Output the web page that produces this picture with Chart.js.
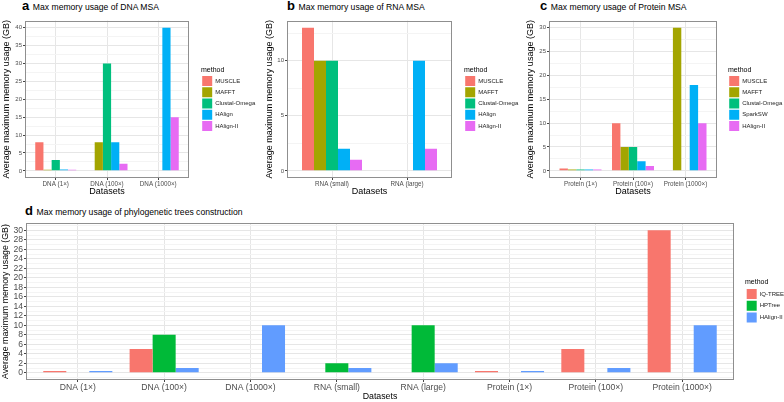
<!DOCTYPE html>
<html>
<head>
<meta charset="utf-8">
<script src="https://cdn.jsdelivr.net/npm/chart.js@4.4.1/dist/chart.umd.min.js"></script>
<style>
  html, body { margin: 0; padding: 0; background: #fff; }
  body { width: 784px; height: 402px; position: relative; overflow: hidden; font-family: "Liberation Sans", Arial, sans-serif; }
  .ttl { position: absolute; white-space: nowrap; font-size: 13px; line-height: 13px; color: #000; }
  .ttl b { font-size: 13px; }
  .ttl span { font-size: 8.6px; }
  canvas { position: absolute; }
</style>
</head>
<body>
<div class="ttl" style="left:22px;top:-1px"><b>a</b> <span>Max memory usage of DNA MSA</span></div>
<div class="ttl" style="left:287px;top:-1px"><b>b</b> <span>Max memory usage of RNA MSA</span></div>
<div class="ttl" style="left:540px;top:-1px"><b>c</b> <span>Max memory usage of Protein MSA</span></div>
<div class="ttl" style="left:25px;top:204px"><b>d</b> <span>Max memory usage of phylogenetic trees construction</span></div>

<canvas id="chartA" width="260" height="186" style="left:0px;top:16px"></canvas>
<canvas id="chartB" width="258" height="186" style="left:262px;top:16px"></canvas>
<canvas id="chartC" width="260" height="186" style="left:524px;top:16px"></canvas>
<canvas id="chartD" width="784" height="185" style="left:0px;top:217px"></canvas>

<script>
// a - DNA MSA
const dnaCategories = ['DNA (1×)', 'DNA (100×)', 'DNA (1000×)'];
const dnaMethods = ['MUSCLE', 'MAFFT', 'Clustal-Omega', 'HAlign', 'HAlign-II'];
const dnaMuscle = [8, null, null];
const dnaMafft = [0.3, 8, null];
const dnaClustal = [3, 30, null];
const dnaHalign = [0.4, 8, 40];
const dnaHalign2 = [0.3, 2, 15];
const dnaTicks = [0, 5, 10, 15, 20, 25, 30, 35, 40];

// b - RNA MSA
const rnaCategories = ['RNA (small)', 'RNA (large)'];
const rnaMethods = ['MUSCLE', 'MAFFT', 'Clustal-Omega', 'HAlign', 'HAlign-II'];
const rnaMuscle = [13, null];
const rnaMafft = [10, null];
const rnaClustal = [10, null];
const rnaHalign = [2, 10];
const rnaHalign2 = [1, 2];
const rnaTicks = [0, 5, 10];

// c - Protein MSA
const protCategories = ['Protein (1×)', 'Protein (100×)', 'Protein (1000×)'];
const protMethods = ['MUSCLE', 'MAFFT', 'Clustal-Omega', 'SparkSW', 'HAlign-II'];
const protMuscle = [0.5, 10, null];
const protMafft = [0.3, 5, 30];
const protClustal = [0.3, 5, null];
const protSparksw = [0.3, 2, 18];
const protHalign2 = [0.3, 1, 10];
const protTicks = [0, 5, 10, 15, 20, 25, 30];

// d - phylogenetic trees
const treeCategories = ['DNA (1×)', 'DNA (100×)', 'DNA (1000×)', 'RNA (small)', 'RNA (large)', 'Protein (1×)', 'Protein (100×)', 'Protein (1000×)'];
const treeMethods = ['IQ-TREE', 'HPTree', 'HAlign-II'];
const treeIqtree = [0.4, 5, null, null, null, 0.4, 5, 30];
const treeHptree = [null, 8, null, 2, 10, null, null, null];
const treeHalign2 = [0.4, 1, 10, 1, 2, 0.4, 1, 10];
const treeTicks = [0, 2, 4, 6, 8, 10, 12, 14, 16, 18, 20, 22, 24, 26, 28, 30];

const hue5 = ['#F8766D', '#A3A500', '#00BF7D', '#00B0F6', '#E76BF3'];
const hue3 = ['#F8766D', '#00BA38', '#619CFF'];

Chart.defaults.font.family = '"Liberation Sans", Arial, sans-serif';

// grey frame round the panel, like theme_bw
const panelBorder = {
    id: 'panelBorder',
    afterDraw(chart) {
        const a = chart.chartArea;
        const ctx = chart.ctx;
        ctx.save();
        ctx.strokeStyle = '#8f8f8f';
        ctx.lineWidth = 1;
        ctx.strokeRect(Math.round(a.left) + 0.5, Math.round(a.top) + 0.5,
            Math.round(a.right - a.left) - 1, Math.round(a.bottom - a.top) - 1);
        ctx.restore();
    }
};

function makeChart(id, o) {
    const n = o.categories.length;
    let top = 0;
    o.series.forEach(s => s.forEach(v => { if (v !== null && v > top) top = v; }));
    const yMin = -0.05 * top;
    const yMax = 1.05 * top;

    // major ticks plus ggplot-style minor lines half way between
    const majorSet = new Set(o.yTicks);
    const half = (o.yTicks[1] - o.yTicks[0]) / 2;
    const allY = [];
    for (let k = -1; k <= o.yTicks.length * 2; k++) {
        const v = o.yTicks[0] + k * half;
        if (v >= yMin && v <= yMax) allY.push(v);
    }
    const isMajor = c => c.tick && majorSet.has(c.tick.value);

    const datasets = o.series.map((vals, i) => ({
        label: o.methods[i],
        data: vals.map((v, j) => ({ x: j + 1, y: v })),
        backgroundColor: o.colors[i],
        borderWidth: 0,
        xAxisID: 'x',
        yAxisID: 'y'
    }));

    const ctx = document.getElementById(id).getContext('2d');
    return new Chart(ctx, {
        type: 'bar',
        data: { datasets: datasets },
        options: {
            responsive: false,
            animation: false,
            layout: { padding: o.pad },
            datasets: { bar: { categoryPercentage: 0.8, barPercentage: 1 } },
            scales: {
                x: {
                    type: 'linear',
                    min: 0.4,
                    max: n + 0.6,
                    offset: false,
                    afterBuildTicks: s => { s.ticks = o.categories.map((c, i) => ({ value: i + 1 })); },
                    afterFit: s => { s.height = o.xH; },
                    grid: { offset: false, color: '#e6e6e6', tickColor: '#444', tickLength: 2 },
                    border: { display: false },
                    ticks: {
                        autoSkip: false, maxRotation: 0, padding: 0, color: '#4d4d4d',
                        font: { size: o.xTickFont },
                        callback: v => o.categories[v - 1]
                    },
                    title: {
                        display: true, text: 'Datasets', color: '#000',
                        font: { size: o.titleFont }, padding: { top: 0, bottom: o.xTitlePad }
                    }
                },
                y: {
                    type: 'linear',
                    min: yMin,
                    max: yMax,
                    afterBuildTicks: s => { s.ticks = allY.map(v => ({ value: v })); },
                    afterFit: s => { s.width = o.yW; },
                    grid: {
                        color: c => isMajor(c) ? '#e6e6e6' : '#f4f4f4',
                        tickColor: c => isMajor(c) ? '#444' : 'rgba(0,0,0,0)',
                        tickLength: 2
                    },
                    border: { display: false },
                    ticks: {
                        autoSkip: false, padding: 1, color: '#4d4d4d',
                        font: { size: o.yTickFont },
                        callback: v => majorSet.has(v) ? String(v) : ''
                    },
                    title: {
                        display: true, text: 'Average maximum memory usage (GB)', color: '#000',
                        font: { size: o.titleFont }, padding: { top: o.yTitlePad, bottom: 0 }
                    }
                },
                spacer: {
                    type: 'linear',
                    axis: 'y',
                    position: 'right',
                    grid: { display: false },
                    border: { display: false },
                    ticks: { display: false },
                    afterFit: s => { s.width = o.spacer; }
                }
            },
            plugins: {
                tooltip: { enabled: false },
                legend: {
                    position: 'right',
                    align: 'center',
                    fullSize: false,
                    maxWidth: o.legendW,
                    title: {
                        display: true, text: 'method', color: '#000', position: 'start',
                        font: { size: 7 }, padding: { top: 0, bottom: 0 }
                    },
                    labels: {
                        boxWidth: 10, boxHeight: 10, padding: o.legendPad,
                        color: '#222', font: { size: 6 }
                    }
                }
            }
        },
        plugins: [panelBorder]
    });
}

makeChart('chartA', {
    categories: dnaCategories, methods: dnaMethods, colors: hue5,
    series: [dnaMuscle, dnaMafft, dnaClustal, dnaHalign, dnaHalign2], yTicks: dnaTicks,
    pad: { top: 2, left: 0, right: 0, bottom: 4 },
    yW: 25, xH: 20, spacer: 12, legendW: 59, legendPad: 1.2,
    xTickFont: 6.3, yTickFont: 6, titleFont: 9, xTitlePad: 0.6, yTitlePad: 1.6
});

makeChart('chartB', {
    categories: rnaCategories, methods: rnaMethods, colors: hue5,
    series: [rnaMuscle, rnaMafft, rnaClustal, rnaHalign, rnaHalign2], yTicks: rnaTicks,
    pad: { top: 2, left: 0, right: 0, bottom: 4 },
    yW: 25, xH: 20, spacer: 12, legendW: 56, legendPad: 1.2,
    xTickFont: 6.3, yTickFont: 6, titleFont: 9, xTitlePad: 0.6, yTitlePad: 2.5
});

makeChart('chartC', {
    categories: protCategories, methods: protMethods, colors: hue5,
    series: [protMuscle, protMafft, protClustal, protSparksw, protHalign2], yTicks: protTicks,
    pad: { top: 2, left: 0, right: 0, bottom: 4 },
    yW: 25, xH: 20, spacer: 11, legendW: 56, legendPad: 1.2,
    xTickFont: 6.3, yTickFont: 6, titleFont: 9, xTitlePad: 0.6, yTitlePad: 1.6
});

makeChart('chartD', {
    categories: treeCategories, methods: treeMethods, colors: hue3,
    series: [treeIqtree, treeHptree, treeHalign2], yTicks: treeTicks,
    pad: { top: 3, left: 0, right: 0, bottom: 0 },
    yW: 26, xH: 22, spacer: 11, legendW: 39, legendPad: 1.7,
    xTickFont: 8.6, yTickFont: 8.6, titleFont: 8.8, xTitlePad: 0, yTitlePad: 0
});
</script>
</body>
</html>
